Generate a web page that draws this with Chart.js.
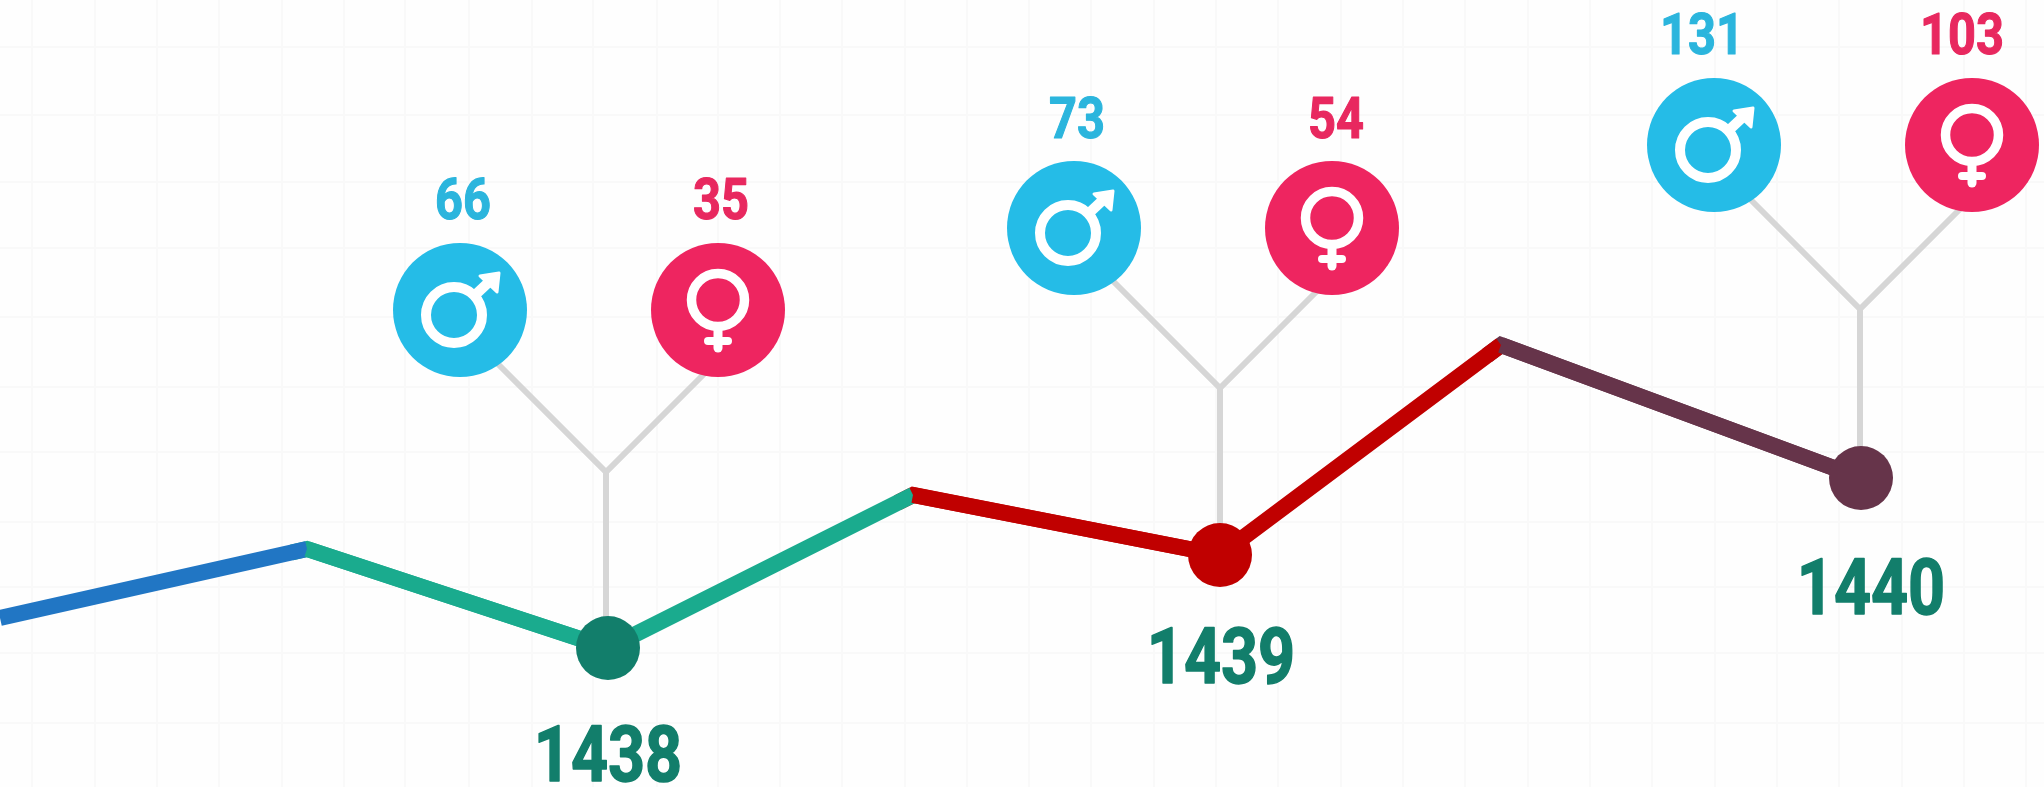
<!DOCTYPE html>
<html>
<head>
<meta charset="utf-8">
<style>
html,body{margin:0;padding:0;background:#fefefe;overflow:hidden}
canvas{display:block}
</style>
<script src="https://cdn.jsdelivr.net/npm/chart.js@4"></script>
</head>
<body>
<canvas id="c" width="2044" height="787"></canvas>
<script>
// Trend line (axis units equal the picture's own, there is no printed axis)
const lineX = [0, 307, 608, 913, 1220, 1501, 1861];
const lineY = [618, 549, 648, 495, 555, 345, 478];
const segmentColors = ['#2176c4', '#1aab8e', '#1aab8e', '#c00000', '#c00000', '#66344a'];
const markerRadius = [0, 0, 32, 0, 32, 0, 32];
const markerColors = ['#2176c4', '#1aab8e', '#127e6b', '#c00000', '#c00000', '#66344a', '#66344a'];
const cornerIndexes = [1, 3, 5];

// Years and counts
const years = ['1438', '1439', '1440'];
const maleCounts = [66, 73, 131];
const femaleCounts = [35, 54, 103];
const yearLabelX = [608, 1221, 1871];
const yearLabelY = [754, 656, 587];

// Bubbles
const maleX = [460, 1074, 1714];
const femaleX = [718, 1332, 1972];
const bubbleY = [310, 228, 145];
const maleLabelX = [463, 1077, 1702];
const femaleLabelX = [721, 1336, 1962];
const countLabelY = [199, 118, 34];

// Connector tree
const junctionX = [606, 1220, 1860];
const junctionY = [472, 388, 309];
const stemEndY = [648, 555, 478];
const maleArmX = [481, 1095, 1735];
const maleArmY = [347, 263, 184];
const femaleArmX = [715, 1330, 1965];
const femaleArmY = [363, 278, 204];

// Background grid
const gridX = [32, 95, 157, 219, 282, 344, 405, 469, 532, 593, 657, 718, 780, 842, 905, 967, 1029, 1091, 1154, 1216, 1278, 1341, 1403, 1465, 1528, 1590, 1652, 1715, 1777, 1839, 1902, 1964, 2026];
const gridY = [47, 115, 182, 248, 317, 387, 452, 522, 587, 653, 723];

const BLUE = '#25bce7', PINK = '#ee2560', GREEN = '#127e6b';
const TEXT_BLUE = '#2bb5dd', TEXT_PINK = '#e8285f';
const LINE_WIDTH = 16;

function glyphCanvas(draw) {
  const k = document.createElement('canvas');
  k.width = 120; k.height = 120;
  const g = k.getContext('2d');
  g.translate(60, 60);
  g.strokeStyle = '#fff'; g.fillStyle = '#fff';
  draw(g);
  return k;
}
const maleGlyph = glyphCanvas(g => {
  g.lineWidth = 10;
  g.beginPath(); g.arc(-6, 5, 28, 0, Math.PI * 2); g.stroke();
  g.lineWidth = 10;
  g.beginPath(); g.moveTo(13, -13); g.lineTo(30, -29); g.stroke();
  g.lineWidth = 3; g.lineJoin = 'round';
  g.beginPath(); g.moveTo(20, -34); g.lineTo(39, -37); g.lineTo(37, -18); g.closePath(); g.fill(); g.stroke();
});
const femaleGlyph = glyphCanvas(g => {
  g.lineWidth = 9.5;
  g.beginPath(); g.arc(0, -10, 26.5, 0, Math.PI * 2); g.stroke();
  g.lineCap = 'round';
  g.lineWidth = 9;
  g.beginPath(); g.moveTo(0, 17); g.lineTo(0, 38); g.stroke();
  g.lineWidth = 8;
  g.beginPath(); g.moveTo(-10, 31); g.lineTo(10, 31); g.stroke();
});

const pts = (xs, ys) => xs.map((x, i) => ({ x, y: ys[i] }));
const datasets = [];

// connectors (lowest)
years.forEach((y, i) => {
  datasets.push({
    label: 'arms ' + y, type: 'line', order: 10,
    data: [
      { x: maleArmX[i], y: maleArmY[i] },
      { x: junctionX[i], y: junctionY[i] },
      { x: femaleArmX[i], y: femaleArmY[i] }
    ],
    borderColor: '#d6d6d6', borderWidth: 6, pointRadius: 0, borderJoinStyle: 'miter', tension: 0
  });
  datasets.push({
    label: 'stem ' + y, type: 'line', order: 10,
    data: [{ x: junctionX[i], y: junctionY[i] }, { x: junctionX[i], y: stemEndY[i] }],
    borderColor: '#d6d6d6', borderWidth: 6, pointRadius: 0, tension: 0
  });
});

// mitred corners under the trend line, in the colour of the segment that leaves the corner
cornerIndexes.forEach(i => {
  datasets.push({
    label: 'corner ' + i, type: 'line', order: 6,
    data: [
      { x: lineX[i] + (lineX[i - 1] - lineX[i]) * 0.05, y: lineY[i] + (lineY[i - 1] - lineY[i]) * 0.05 },
      { x: lineX[i], y: lineY[i] },
      { x: lineX[i + 1], y: lineY[i + 1] }
    ],
    borderColor: segmentColors[i], borderWidth: LINE_WIDTH, borderJoinStyle: 'miter',
    pointRadius: 0, tension: 0
  });
});

// trend line with year markers
datasets.push({
  label: 'trend', type: 'line', order: 5,
  data: pts(lineX, lineY),
  borderWidth: LINE_WIDTH, borderCapStyle: 'butt', borderJoinStyle: 'miter', tension: 0,
  borderColor: segmentColors[0],
  segment: { borderColor: c => segmentColors[c.p0DataIndex] },
  pointRadius: markerRadius,
  pointBackgroundColor: markerColors,
  pointBorderWidth: 0
});

// bubbles
datasets.push({
  label: 'male', type: 'scatter', order: 3, showLine: false,
  data: pts(maleX, bubbleY),
  pointRadius: 67, pointBackgroundColor: BLUE, pointBorderWidth: 0
});
datasets.push({
  label: 'female', type: 'scatter', order: 3, showLine: false,
  data: pts(femaleX, bubbleY),
  pointRadius: 67, pointBackgroundColor: PINK, pointBorderWidth: 0
});
datasets.push({
  label: 'male glyph', type: 'scatter', order: 1, showLine: false,
  data: pts(maleX, bubbleY), pointStyle: maleGlyph, pointRadius: 60
});
datasets.push({
  label: 'female glyph', type: 'scatter', order: 1, showLine: false,
  data: pts(femaleX, bubbleY), pointStyle: femaleGlyph, pointRadius: 60
});

const SQUEEZE = 0.84;
const labelsPlugin = {
  id: 'labels',
  afterDatasetsDraw(chart) {
    const { ctx, scales: { x, y } } = chart;
    const put = (t, px, py, w) => {
      ctx.save();
      ctx.translate(x.getPixelForValue(px), y.getPixelForValue(py));
      ctx.scale(SQUEEZE, 1);
      ctx.lineWidth = w;
      ctx.lineJoin = 'round';
      ctx.strokeStyle = ctx.fillStyle;
      ctx.strokeText(t, 0, 0);
      ctx.fillText(t, 0, 0);
      ctx.restore();
    };
    ctx.save();
    ctx.textAlign = 'center';
    ctx.textBaseline = 'alphabetic';
    ctx.font = '700 77px Roboto, sans-serif';
    ctx.fillStyle = GREEN;
    years.forEach((t, i) => put(t, yearLabelX[i], yearLabelY[i] + 27, 1.5));
    ctx.font = '700 58px Roboto, sans-serif';
    years.forEach((t, i) => {
      ctx.fillStyle = TEXT_BLUE;
      put(String(maleCounts[i]), maleLabelX[i], countLabelY[i] + 20, 1.2);
      ctx.fillStyle = TEXT_PINK;
      put(String(femaleCounts[i]), femaleLabelX[i], countLabelY[i] + 20, 1.2);
    });
    ctx.restore();
  }
};

new Chart(document.getElementById('c'), {
  data: { datasets },
  plugins: [labelsPlugin],
  options: {
    responsive: false,
    animation: false,
    layout: { padding: 0, autoPadding: false },
    plugins: { legend: { display: false }, tooltip: { enabled: false } },
    scales: {
      x: {
        type: 'linear', min: 0, max: 2044,
        afterBuildTicks: s => { s.ticks = gridX.map(value => ({ value })); },
        ticks: { display: false },
        border: { display: false },
        grid: { color: '#f9f9f9', lineWidth: 2, drawTicks: false }
      },
      y: {
        type: 'linear', min: 0, max: 787, reverse: true,
        afterBuildTicks: s => { s.ticks = gridY.map(value => ({ value })); },
        ticks: { display: false },
        border: { display: false },
        grid: { color: '#f9f9f9', lineWidth: 2, drawTicks: false }
      }
    }
  }
});
</script>
</body>
</html>
